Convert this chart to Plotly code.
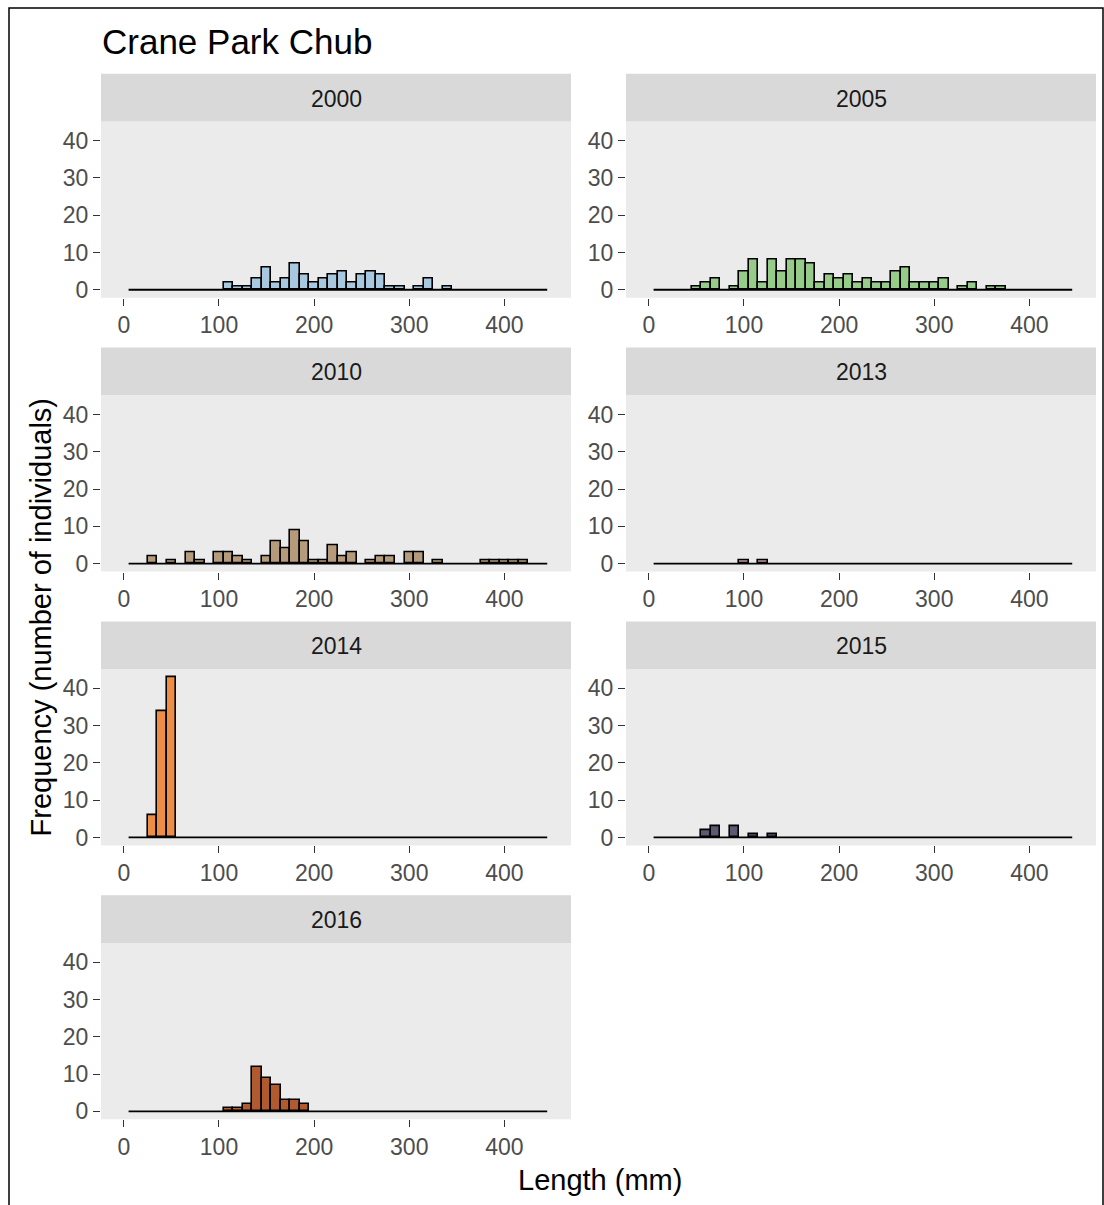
import plotly.graph_objects as go

# Length-frequency histograms of chub at Crane Park, one panel per survey year.
YEARS = ["2000", "2005", "2010", "2013", "2014", "2015", "2016"]

# Bin centres (mm) and fish counts for the non-empty 10 mm length classes
LEN_2000 = [110, 120, 130, 140, 150, 160, 170, 180, 190, 200, 210, 220, 230, 240,
            250, 260, 270, 280, 290, 310, 320, 340]
CNT_2000 = [2, 1, 1, 3, 6, 2, 3, 7, 4, 2, 3, 4, 5, 2, 4, 5, 4, 1, 1, 1, 3, 1]

LEN_2005 = [50, 60, 70, 90, 100, 110, 120, 130, 140, 150, 160, 170, 180, 190, 200,
            210, 220, 230, 240, 250, 260, 270, 280, 290, 300, 310, 330, 340, 360, 370]
CNT_2005 = [1, 2, 3, 1, 5, 8, 2, 8, 5, 8, 8, 7, 2, 4, 3,
            4, 2, 3, 2, 2, 5, 6, 2, 2, 2, 3, 1, 2, 1, 1]

LEN_2010 = [30, 50, 70, 80, 100, 110, 120, 130, 150, 160, 170, 180, 190, 200, 210,
            220, 230, 240, 260, 270, 280, 300, 310, 330, 380, 390, 400, 410, 420]
CNT_2010 = [2, 1, 3, 1, 3, 3, 2, 1, 2, 6, 4, 9, 6, 1, 1,
            5, 2, 3, 1, 2, 2, 3, 3, 1, 1, 1, 1, 1, 1]

LEN_2013 = [100, 120]
CNT_2013 = [1, 1]

LEN_2014 = [30, 40, 50]
CNT_2014 = [6, 34, 43]

LEN_2015 = [60, 70, 90, 110, 130]
CNT_2015 = [2, 3, 3, 1, 1]

LEN_2016 = [110, 120, 130, 140, 150, 160, 170, 180, 190]
CNT_2016 = [1, 1, 2, 12, 9, 7, 3, 3, 2]

FILLS = ["#a7c8de", "#96cb8a", "#b59b7b", "#c29aa5", "#ee8d46", "#5e5972", "#b1592f"]

BIN_WIDTH = 10
BIN_LIMITS = [5, 445]          # full span of the shared histogram bins
X_RANGE = [-24, 470]
Y_RANGE = [-2.15, 45.15]
X_TICKS = [0, 100, 200, 300, 400]
Y_TICKS = [0, 10, 20, 30, 40]

lengths = [LEN_2000, LEN_2005, LEN_2010, LEN_2013, LEN_2014, LEN_2015, LEN_2016]
counts = [CNT_2000, CNT_2005, CNT_2010, CNT_2013, CNT_2014, CNT_2015, CNT_2016]

W, H = 1104, 1205
FONT = "Liberation Sans, Arial, sans-serif"
TICK_COL = "#4d4d4d"

# panel geometry in pixels
COL_X = [(101, 571), (626, 1096)]
ROW_TOP = [122, 397, 672, 947]
PANEL_H = 177
STRIP_H = 48


def fx(px):
    return px / W


def fy(py):
    return 1 - py / H


fig = go.Figure()
shapes = []
annotations = []

for i, year in enumerate(YEARS):
    r, c = divmod(i, 2)
    x0, x1 = COL_X[c]
    top = ROW_TOP[r]
    bot = top + PANEL_H
    n = "" if i == 0 else str(i + 1)
    xa, ya = "x" + n, "y" + n

    fig.add_trace(go.Bar(
        x=lengths[i], y=counts[i], width=BIN_WIDTH,
        marker=dict(color=FILLS[i], line=dict(color="black", width=1.6)),
        xaxis=xa, yaxis=ya, showlegend=False, hoverinfo="x+y",
    ))
    # empty bins collapse onto the baseline
    fig.add_trace(go.Scatter(
        x=BIN_LIMITS, y=[0, 0], mode="lines",
        line=dict(color="black", width=1.8),
        xaxis=xa, yaxis=ya, showlegend=False, hoverinfo="skip",
    ))

    axis_common = dict(
        showgrid=False, zeroline=False, showline=False,
        ticks="outside", ticklen=7, tickwidth=1.3, tickcolor="#333333",
        tickfont=dict(family=FONT, size=23, color=TICK_COL),
        fixedrange=True,
    )
    fig.update_layout(**{
        ("xaxis" + n): dict(domain=[fx(x0), fx(x1)], range=X_RANGE,
                           tickvals=X_TICKS, anchor=ya, **axis_common),
        ("yaxis" + n): dict(domain=[fy(bot), fy(top)], range=Y_RANGE,
                           tickvals=Y_TICKS, anchor=xa, **axis_common),
    })

    # panel background
    shapes.append(dict(type="rect", xref="paper", yref="paper",
                       x0=fx(x0), x1=fx(x1), y0=fy(bot), y1=fy(top),
                       fillcolor="#ebebeb", line=dict(width=0), layer="below"))
    # facet strip
    shapes.append(dict(type="rect", xref="paper", yref="paper",
                       x0=fx(x0), x1=fx(x1), y0=fy(top), y1=fy(top - STRIP_H),
                       fillcolor="#d9d9d9", line=dict(width=0), layer="below"))
    annotations.append(dict(text=year, xref="paper", yref="paper",
                            x=fx((x0 + x1) / 2), y=fy(top - STRIP_H / 2 + 1),
                            showarrow=False, xanchor="center", yanchor="middle",
                            font=dict(family=FONT, size=23, color="#1a1a1a")))

# outer frame
shapes.append(dict(type="rect", xref="paper", yref="paper",
                   x0=fx(9), x1=fx(1103), y0=-0.02, y1=fy(8),
                   line=dict(color="black", width=1.5), fillcolor="rgba(0,0,0,0)"))

annotations += [
    dict(text="Crane Park Chub", xref="paper", yref="paper",
         x=fx(100), y=fy(42), xanchor="left", yanchor="middle", showarrow=False,
         font=dict(family=FONT, size=35, color="black")),
    dict(text="Length (mm)", xref="paper", yref="paper",
         x=fx(600), y=fy(1185), xanchor="center", yanchor="middle", showarrow=False,
         font=dict(family=FONT, size=29, color="black")),
    dict(text="Frequency (number of individuals)", xref="paper", yref="paper",
         x=fx(41), y=fy(620), xanchor="center", yanchor="middle", showarrow=False,
         textangle=-90, font=dict(family=FONT, size=29, color="black")),
]

fig.update_layout(
    width=W, height=H,
    margin=dict(l=0, r=0, t=0, b=0),
    paper_bgcolor="white", plot_bgcolor="rgba(0,0,0,0)",
    bargap=0, shapes=shapes, annotations=annotations,
    font=dict(family=FONT),
)

fig.write_html("out.html")
